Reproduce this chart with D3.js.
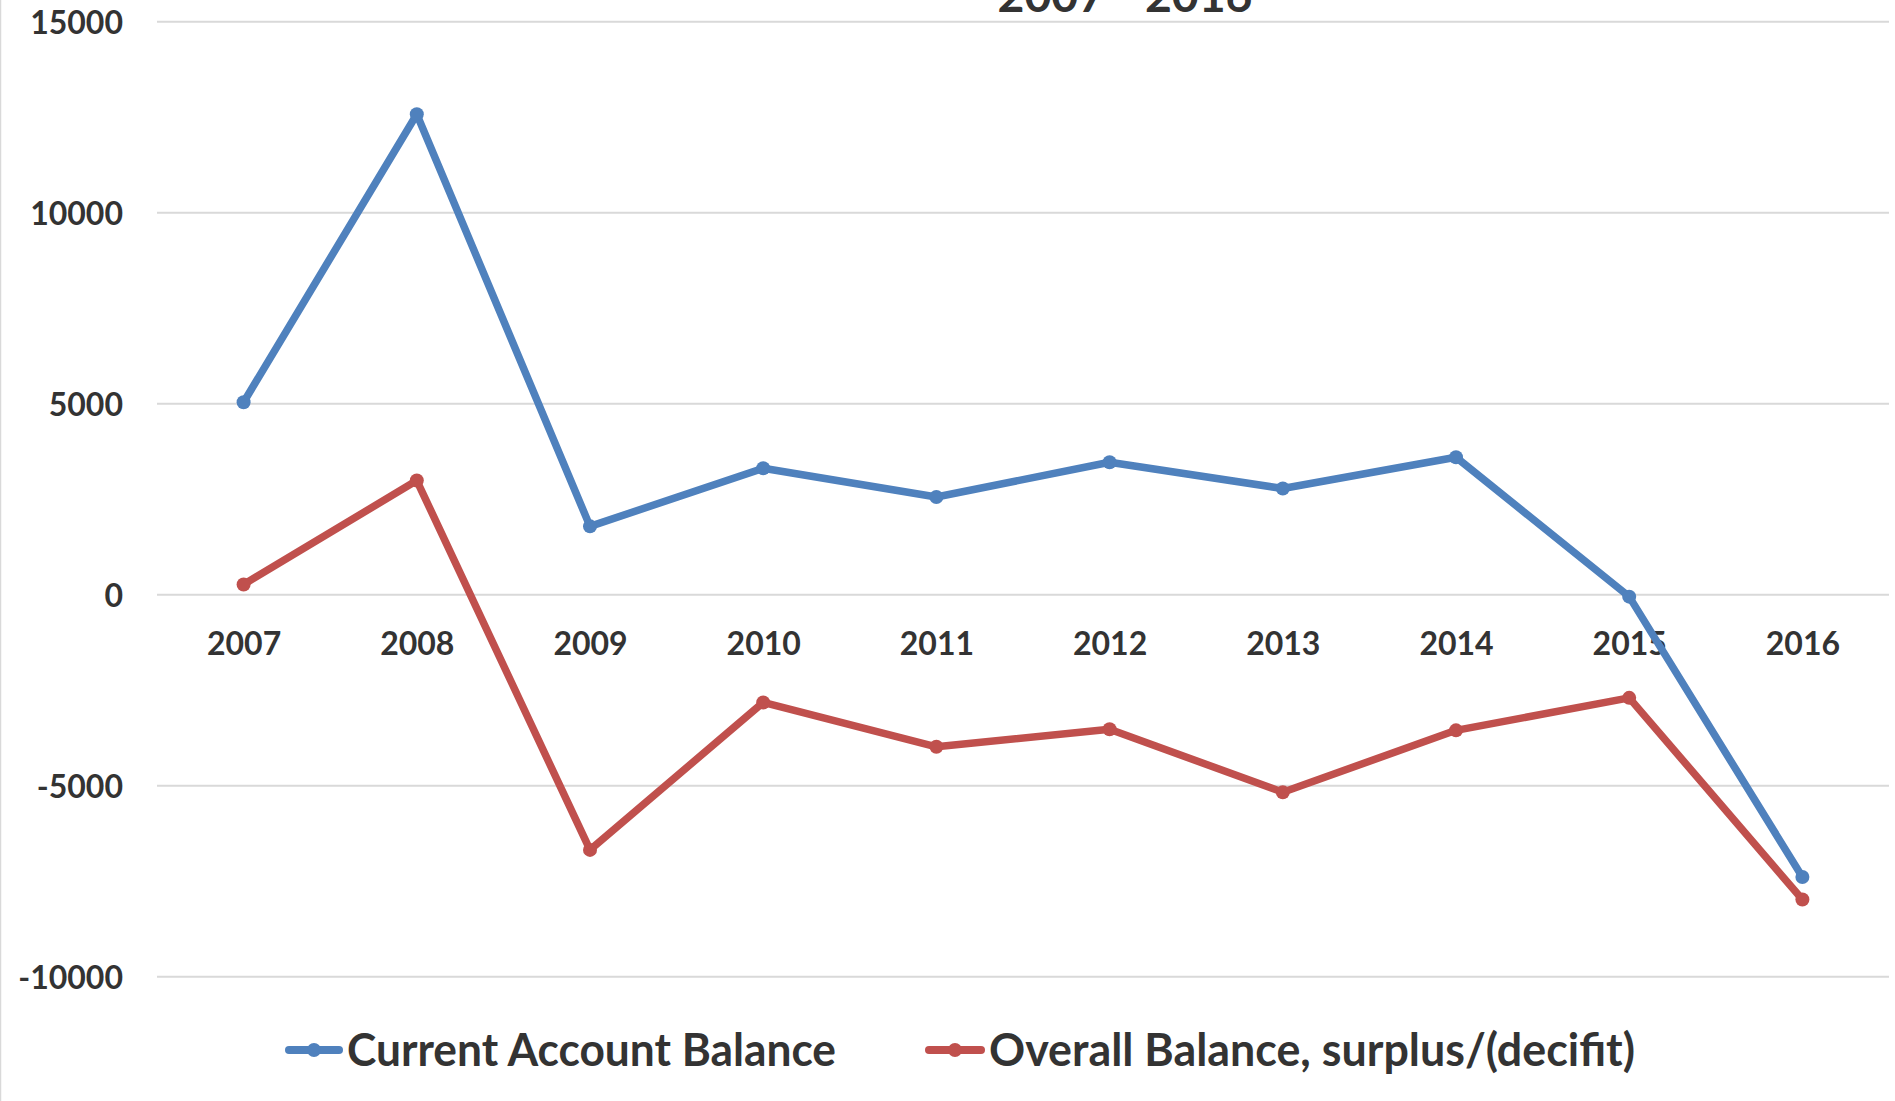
<!DOCTYPE html>
<html>
<head>
<meta charset="utf-8">
<script src="https://cdn.jsdelivr.net/npm/d3@7"></script>
<style>
  html, body { margin: 0; padding: 0; background: #fff; }
  svg { display: block; }
  text { font-family: Lato, "Open Sans", sans-serif; font-weight: bold; fill: #333; }
</style>
</head>
<body>
<script>
const years = ["2007","2008","2009","2010","2011","2012","2013","2014","2015","2016"];
const currentAccount = [5040, 12580, 1790, 3310, 2560, 3470, 2780, 3600, -50, -7390];
const overallBalance = [270, 2990, -6680, -2820, -3980, -3520, -5170, -3550, -2700, -7980];
const yTicks = [-10000, -5000, 0, 5000, 10000, 15000];
const seriesNames = ["Current Account Balance", "Overall Balance, surplus/(decifit)"];
const seriesColors = ["#4F81BD", "#C0504D"];
const titleText = "2007 - 2016";

const W = 1895, H = 1101;
const svg = d3.select("body").append("svg").attr("width", W).attr("height", H);

// chart border on the left edge
svg.append("line").attr("x1", 0.5).attr("x2", 0.5).attr("y1", 0).attr("y2", H)
  .attr("stroke", "#d9d9d9").attr("stroke-width", 1.5);

const x = d3.scalePoint().domain(years).range([157, 1889]).padding(0.5);
const y = d3.scaleLinear().domain([-10000, 15000]).range([976.7, 21.8]);

// gridlines
svg.append("g").selectAll("line").data(yTicks).join("line")
  .attr("x1", 157).attr("x2", 1889)
  .attr("y1", d => y(d)).attr("y2", d => y(d))
  .attr("stroke", "#d9d9d9").attr("stroke-width", 2);

// y axis labels
const yAxis = d3.axisLeft(y).tickValues(yTicks).tickSize(0).tickPadding(0).tickFormat(d => String(d));
const gy = svg.append("g").attr("transform", "translate(123,0)").call(yAxis);
gy.select(".domain").remove();
gy.selectAll("text").attr("font-size", 32).attr("font-family", "Lato, sans-serif")
  .attr("font-weight", "bold").attr("fill", "#333").attr("dy", "0.36em");

// x axis labels (at y=0 line, below)
const xAxis = d3.axisBottom(x).tickSize(0).tickPadding(0);
const gx = svg.append("g").attr("transform", "translate(0,655)").call(xAxis);
gx.select(".domain").remove();
gx.selectAll("text").attr("font-size", 32).attr("font-family", "Lato, sans-serif")
  .attr("font-weight", "bold").attr("fill", "#333").attr("dy", 0).attr("y", 0);

// title (mostly clipped at the top, as in the reference)
svg.append("text").attr("x", 1125).attr("y", 12).attr("text-anchor", "middle")
  .attr("font-size", 46).attr("textLength", 255).attr("lengthAdjust", "spacingAndGlyphs")
  .text(titleText);

// series
const series = [currentAccount, overallBalance];
const line = d3.line().x((d, i) => x(years[i])).y(d => y(d));
series.forEach((vals, si) => {
  const g = svg.append("g");
  g.append("path").datum(vals).attr("d", line)
    .attr("fill", "none").attr("stroke", seriesColors[si]).attr("stroke-width", 7.5)
    .attr("stroke-linejoin", "round").attr("stroke-linecap", "round");
  g.selectAll("circle").data(vals).join("circle")
    .attr("cx", (d, i) => x(years[i])).attr("cy", d => y(d)).attr("r", 7)
    .attr("fill", seriesColors[si]);
});

// legend
const legendY = 1050;
const legendItems = [
  { x0: 285, x1: 343, tx: 347, w: 489 },
  { x0: 925, x1: 985, tx: 989, w: 646 }
];
legendItems.forEach((it, i) => {
  const g = svg.append("g");
  g.append("line").attr("x1", it.x0 + 4).attr("x2", it.x1 - 4).attr("y1", legendY).attr("y2", legendY)
    .attr("stroke", seriesColors[i]).attr("stroke-width", 8).attr("stroke-linecap", "round");
  g.append("circle").attr("cx", (it.x0 + it.x1) / 2).attr("cy", legendY).attr("r", 7).attr("fill", seriesColors[i]);
  g.append("text").attr("x", it.tx).attr("y", legendY + 16).attr("font-size", 46)
    .attr("textLength", it.w).attr("lengthAdjust", "spacingAndGlyphs")
    .text(seriesNames[i]);
});
</script>
</body>
</html>
